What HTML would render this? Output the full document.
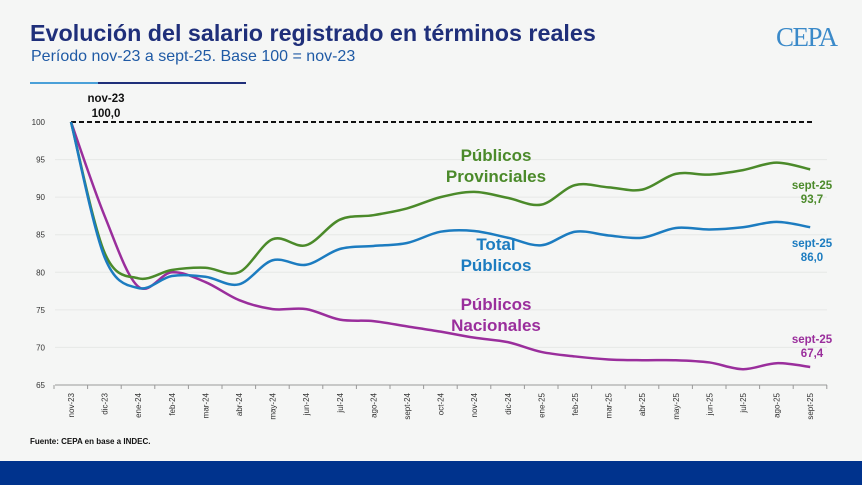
<!DOCTYPE html>
<html><head><meta charset="utf-8"><style>
body{margin:0;width:862px;height:485px;background:#f5f6f5;font-family:"Liberation Sans",sans-serif;overflow:hidden;position:relative}
.t{position:absolute;left:30px;top:20px;font-size:23.3px;font-weight:bold;color:#1f2f7a}
.s{position:absolute;left:31px;top:48px;font-size:16px;color:#1f5aa5}
.logo{position:absolute;left:776px;top:22px;font-size:27px;color:#3b8ac9;font-family:"Liberation Serif",serif;letter-spacing:-1.5px}
.bar{position:absolute;left:0;top:461px;width:862px;height:24px;background:#00338d}
.src{position:absolute;left:30px;top:437px;font-size:8px;font-weight:bold;color:#111}
</style></head><body>
<div class="t">Evolución del salario registrado en términos reales</div>
<div class="s">Período nov-23 a sept-25. Base 100 = nov-23</div>
<div class="logo">CEPA</div>
<div style="position:absolute;left:30px;top:82px;width:68px;height:2px;background:#4aa0d8"></div>
<div style="position:absolute;left:98px;top:82px;width:148px;height:2px;background:#1f2f7a"></div>
<svg width="862" height="485" style="position:absolute;left:0;top:0" id="s" font-family="Liberation Sans, sans-serif"></svg>
<div class="src">Fuente: CEPA en base a INDEC.</div>
<div class="bar"></div>
<script>
const S=document.getElementById('s');let h='';
const X=i=>71+i*33.6, Y=v=>122+(100-v)*7.514;
[95,90,85,80,75,70].forEach(v=>{h+=`<line x1="55" x2="827" y1="${Y(v)}" y2="${Y(v)}" stroke="#e6e8e6" stroke-width="1"/>`});
[100,95,90,85,80,75,70,65].forEach(v=>{h+=`<text x="45" y="${Y(v)+3}" font-size="8" fill="#333" text-anchor="end">${v}</text>`});
h+=`<line x1="55" x2="827" y1="${Y(65)}" y2="${Y(65)}" stroke="#999"/>`;
for(let i=0;i<=23;i++){let x=54+i*33.6;h+=`<line x1="${x}" x2="${x}" y1="${Y(65)}" y2="${Y(65)+4}" stroke="#999"/>`}
const L=['nov-23','dic-23','ene-24','feb-24','mar-24','abr-24','may-24','jun-24','jul-24','ago-24','sept-24','oct-24','nov-24','dic-24','ene-25','feb-25','mar-25','abr-25','may-25','jun-25','jul-25','ago-25','sept-25'];
L.forEach((l,i)=>{h+=`<text transform="translate(${X(i)+3},${Y(65)+8}) rotate(-90)" font-size="8" fill="#333" text-anchor="end">${l}</text>`});
h+=`<line x1="71" x2="812" y1="122" y2="122" stroke="#111" stroke-width="2" stroke-dasharray="5,3"/>`;
function p(d,c){let pts=d.map((v,i)=>[X(i),Y(v)]);let s=`M${pts[0]}`;for(let i=0;i<pts.length-1;i++){let p0=pts[i-1]||pts[i],p1=pts[i],p2=pts[i+1],p3=pts[i+2]||p2;let t=6;s+=` C${p1[0]+(p2[0]-p0[0])/t},${p1[1]+(p2[1]-p0[1])/t} ${p2[0]-(p3[0]-p1[0])/t},${p2[1]-(p3[1]-p1[1])/t} ${p2[0]},${p2[1]}`}h+=`<path d="${s}" fill="none" stroke="${c}" stroke-width="2.5"/>`}
p([100,87.5,78.1,80,78.7,76.3,75.1,75.1,73.7,73.5,72.8,72.1,71.3,70.7,69.4,68.8,68.4,68.3,68.3,68,67.1,67.9,67.4],'#9a2e9c');
p([100,82.6,79.2,80.3,80.6,80,84.4,83.6,87,87.6,88.5,90,90.7,89.9,89,91.6,91.3,91,93.1,93,93.6,94.6,93.7],'#4b8a2a');
p([100,82,77.9,79.5,79.4,78.4,81.6,81,83.1,83.5,83.9,85.4,85.5,84.6,83.6,85.4,84.9,84.6,85.9,85.7,86,86.7,86],'#1c7cc0');
function t(x,y,s,c,sz,a){h+=`<text x="${x}" y="${y}" font-size="${sz}" font-weight="bold" fill="${c}" text-anchor="${a||'middle'}">${s}</text>`}
t(106,102,'nov-23','#111',11.5);t(106,117,'100,0','#111',11.5);
t(496,161,'Públicos','#4b8a2a',17);t(496,182,'Provinciales','#4b8a2a',17);
t(496,250,'Total','#1c7cc0',17);t(496,271,'Públicos','#1c7cc0',17);
t(496,310,'Públicos','#9a2e9c',17);t(496,331,'Nacionales','#9a2e9c',17);
t(812,189,'sept-25','#4b8a2a',11.5);t(812,203,'93,7','#4b8a2a',11.5);
t(812,247,'sept-25','#1c7cc0',11.5);t(812,261,'86,0','#1c7cc0',11.5);
t(812,343,'sept-25','#9a2e9c',11.5);t(812,357,'67,4','#9a2e9c',11.5);
S.innerHTML=h;
</script>
</body></html>
